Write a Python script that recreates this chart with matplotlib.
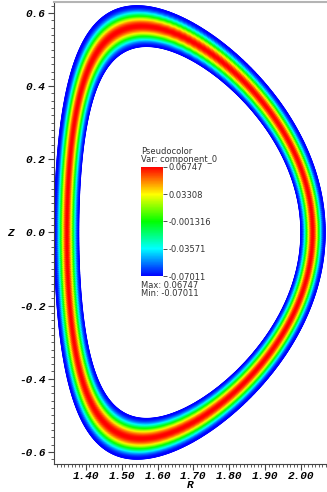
import numpy as np
import matplotlib
matplotlib.use("Agg")
import matplotlib.pyplot as plt
from matplotlib.colors import LinearSegmentedColormap
from matplotlib.ticker import MultipleLocator, FuncFormatter

# shape of the annulus (Miller-like D shape)
R0 = 1.690
a_minor = 0.378
kappa = 1.64
delta = 0.40
rho_inner = 0.82

# field range
vmin = -0.07011
vmax = 0.06747
cbar_ticks = [-0.07011, -0.03571, -0.001316, 0.03308, 0.06747]
cbar_labels = ["-0.07011", "-0.03571", "-0.001316", "0.03308", "0.06747"]

xlim = (1.311, 2.073)
ylim = (-0.633, 0.630)

# VisIt "hot" pseudocolor table
cmap = LinearSegmentedColormap.from_list(
    "visit_hot", ["#0000ff", "#00ffff", "#00ff00", "#ffff00", "#ff0000"])

rho = np.linspace(rho_inner, 1.0, 60)
theta = np.linspace(0, 2 * np.pi, 721)
RHO, TH = np.meshgrid(rho, theta)
R = R0 + a_minor * RHO * np.cos(TH + delta * np.sin(TH))
Z = kappa * a_minor * RHO * np.sin(TH)
s = (RHO - rho_inner) / (1.0 - rho_inner)
V = vmin + (vmax - vmin) * np.sin(np.pi * s) ** 2

fig = plt.figure(figsize=(3.27, 4.92), dpi=100)
ax = fig.add_axes([54 / 327, 1 - 464 / 492, 1 - 54 / 327, 462 / 492])
ax.pcolormesh(R, Z, V, cmap=cmap, vmin=vmin, vmax=vmax, shading="gouraud")
ax.set_xlim(*xlim)
ax.set_ylim(*ylim)

mono = dict(family="Liberation Mono", weight="bold", style="italic", size=8)
ax.xaxis.set_major_locator(MultipleLocator(0.1))
ax.xaxis.set_minor_locator(MultipleLocator(0.01))
ax.yaxis.set_major_locator(MultipleLocator(0.2))
ax.yaxis.set_minor_locator(MultipleLocator(0.02))
ax.xaxis.set_major_formatter(FuncFormatter(lambda v, p: "%.2f" % v))
ax.yaxis.set_major_formatter(FuncFormatter(lambda v, p: ("%.1f" % v).replace("-0.0", "0.0")))
ax.tick_params(which="major", length=4, width=0.8, color="#444444", pad=2)
ax.tick_params(which="minor", length=2, width=0.6, color="#444444")
ax.tick_params(axis="x", which="major", pad=1)
for lab in ax.get_xticklabels() + ax.get_yticklabels():
    lab.set_fontproperties(matplotlib.font_manager.FontProperties(**mono))
ax.spines["right"].set_visible(False)
ax.spines["top"].set_color("#b4b4b4")
ax.spines["top"].set_linewidth(1.5)
ax.spines["left"].set_color("#444444")
ax.spines["bottom"].set_color("#444444")
ax.set_xlabel("R", labelpad=-1, **mono)
ax.set_ylabel("Z", rotation=0, labelpad=6, va="center", **mono)

# legend
cax = fig.add_axes([141 / 327, 1 - 276 / 492, 22 / 327, 109 / 492])
cb = fig.colorbar(ax.collections[0], cax=cax)
cb.outline.set_visible(False)
cb.set_ticks(cbar_ticks)
cb.set_ticklabels(cbar_labels)
cax.tick_params(length=3, width=0.6, color="#333333", labelsize=6, pad=1,
                labelcolor="#333333")
fig.text(141 / 327, 1 - 152 / 492, "Pseudocolor", fontsize=6, color="#333333", va="center")
fig.text(141 / 327, 1 - 160 / 492, "Var: component_0", fontsize=6, color="#333333", va="center")
fig.text(141 / 327, 1 - 285 / 492, "Max: 0.06747", fontsize=6, color="#333333", va="center")
fig.text(141 / 327, 1 - 293 / 492, "Min: -0.07011", fontsize=6, color="#333333", va="center")

fig.savefig("out.png", dpi=100)
